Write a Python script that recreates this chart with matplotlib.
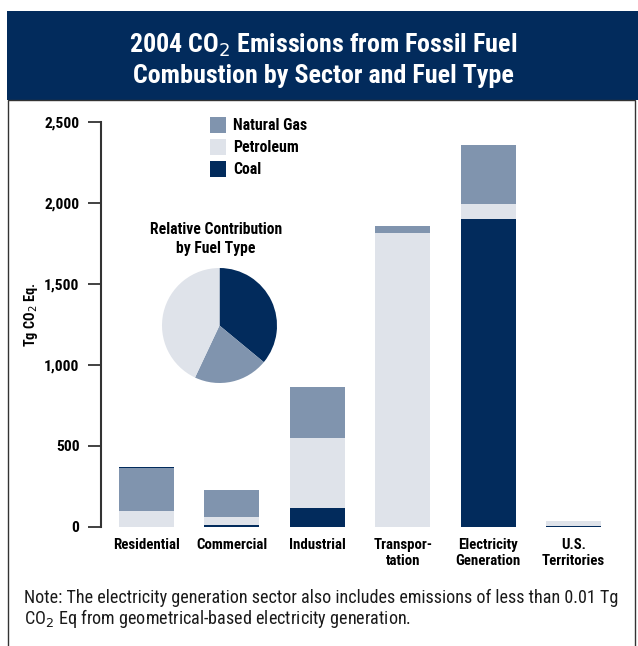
import numpy as np
import matplotlib
matplotlib.use("Agg")
import matplotlib.pyplot as plt
from matplotlib.patches import Rectangle

plt.rcParams['font.family'] = ['Roboto Condensed', 'DejaVu Sans']

# data (Tg CO2 Eq.)
sectors = ["Residential", "Commercial", "Industrial", "Transpor-\ntation",
           "Electricity\nGeneration", "U.S.\nTerritories"]
coal = [6, 9, 114, 0, 1900, 4]
petroleum = [96, 50, 433, 1814, 93, 28]
natural_gas = [268, 167, 315, 43, 365, 3]

pie_labels = ["Coal", "Natural Gas", "Petroleum"]
pie_share = [36, 21, 43]

navy = "#022b5c"
gas_c = "#8094ae"
pet_c = "#dfe3ea"

W, H = 638, 646
fig = plt.figure(figsize=(W / 100, H / 100), dpi=100)

def fx(px):
    return px / W

def fy(py):
    return 1 - py / H

def scale_to(texts, ref, target, use_height=False):
    # resize a group of texts so that `ref` spans `target` pixels
    fig.canvas.draw()
    bb = ref.get_window_extent(fig.canvas.get_renderer())
    size = bb.height if use_height else bb.width
    k = target / size
    for t in texts:
        t.set_fontsize(t.get_fontsize() * k)

# header band + frame
fig.patches.append(Rectangle((fx(7), fy(100)), fx(640) - fx(7), fy(11) - fy(100),
                             transform=fig.transFigure, facecolor=navy, edgecolor="none"))
fig.patches.append(Rectangle((fx(7.5), fy(700)), fx(635) - fx(7.5), fy(100) - fy(700),
                             transform=fig.transFigure, facecolor="none",
                             edgecolor="#333333", lw=1))
t1 = fig.text(fx(323), fy(45), "2004 CO$_2$ Emissions from Fossil Fuel", color="white",
              fontsize=16.5, fontweight="bold", ha="center", va="center")
t2 = fig.text(fx(323), fy(76), "Combustion by Sector and Fuel Type", color="white",
              fontsize=16.5, fontweight="bold", ha="center", va="center")

# main bar axes
ax = fig.add_axes([fx(101), fy(526.5), fx(620) - fx(101), fy(122) - fy(526.5)])
x = np.arange(len(sectors))
ax.set_xlim((101 - 146.5) / 85.4, (620 - 146.5) / 85.4)
ax.set_ylim(0, 2500)

bw = 55 / 85.4
for i in range(len(sectors)):
    # residential shows its thin coal strip on top
    if i == 0:
        order = [(petroleum[i], pet_c), (natural_gas[i], gas_c), (coal[i], navy)]
    else:
        order = [(coal[i], navy), (petroleum[i], pet_c), (natural_gas[i], gas_c)]
    bottom = 0
    for val, col in order:
        ax.bar(x[i], val, bw, bottom=bottom, color=col, linewidth=0)
        bottom += val

for s in ["top", "right", "bottom"]:
    ax.spines[s].set_visible(False)
ax.spines["left"].set_color("#333333")
ax.spines["left"].set_linewidth(1.5)
ax.set_yticks([0, 500, 1000, 1500, 2000, 2500])
ax.set_yticklabels(["0", "500", "1,000", "1,500", "2,000", "2,500"],
                   fontsize=10, fontweight="bold")
ax.tick_params(axis="y", direction="out", length=9.5, width=1.3, color="#333333", pad=6)
ax.set_xticks(x)
ax.set_xticklabels(sectors, fontsize=10.5, fontweight="bold", linespacing=1.25)
ax.tick_params(axis="x", length=0, pad=8)
ylab = fig.text(fx(31), fy(315), "Tg CO$_2$ Eq.", fontsize=9.5, fontweight="bold",
                rotation=90, ha="center", va="center")

# legend
leg_items = [("Natural Gas", gas_c), ("Petroleum", pet_c), ("Coal", navy)]
leg_texts = []
for k, (lab, col) in enumerate(leg_items):
    top = 117 + 22 * k
    fig.patches.append(Rectangle((fx(210), fy(top + 16)), fx(16), fy(0) - fy(16),
                                 transform=fig.transFigure, facecolor=col, edgecolor="none"))
    leg_texts.append(fig.text(fx(233), fy(top + 8), lab, fontsize=10, fontweight="bold",
                              ha="left", va="center"))

# inset pie
pie_t1 = fig.text(fx(216), fy(229), "Relative Contribution", fontsize=10,
                  fontweight="bold", ha="center", va="center")
pie_t2 = fig.text(fx(216), fy(248), "by Fuel Type", fontsize=10,
                  fontweight="bold", ha="center", va="center")
pax = fig.add_axes([fx(162), fy(383), fx(115), fy(0) - fy(115)])
pax.pie(pie_share, colors=[navy, gas_c, pet_c], startangle=90, counterclock=False,
        wedgeprops=dict(linewidth=0))
pax.set_xlim(-1, 1)
pax.set_ylim(-1, 1)
pax.set_aspect("equal")

# note
n1 = fig.text(fx(24), fy(598), "Note: The electricity generation sector also includes emissions of less than 0.01 Tg",
              fontsize=11.5, ha="left", va="center", color="#1a1a1a")
n2 = fig.text(fx(24), fy(618), "CO$_2$ Eq from geometrical-based electricity generation.",
              fontsize=11.5, ha="left", va="center", color="#1a1a1a")

# match text widths measured on the reference
scale_to([t1, t2], t1, 387)
scale_to(leg_texts, leg_texts[0], 74)
scale_to([pie_t1, pie_t2], pie_t1, 132)
scale_to([n1, n2], n1, 596)
scale_to([ylab], ylab, 65, use_height=True)
scale_to(ax.get_yticklabels(), ax.get_yticklabels()[-1], 35)
scale_to(ax.get_xticklabels(), ax.get_xticklabels()[0], 67)

fig.savefig("out.png", dpi=100)
